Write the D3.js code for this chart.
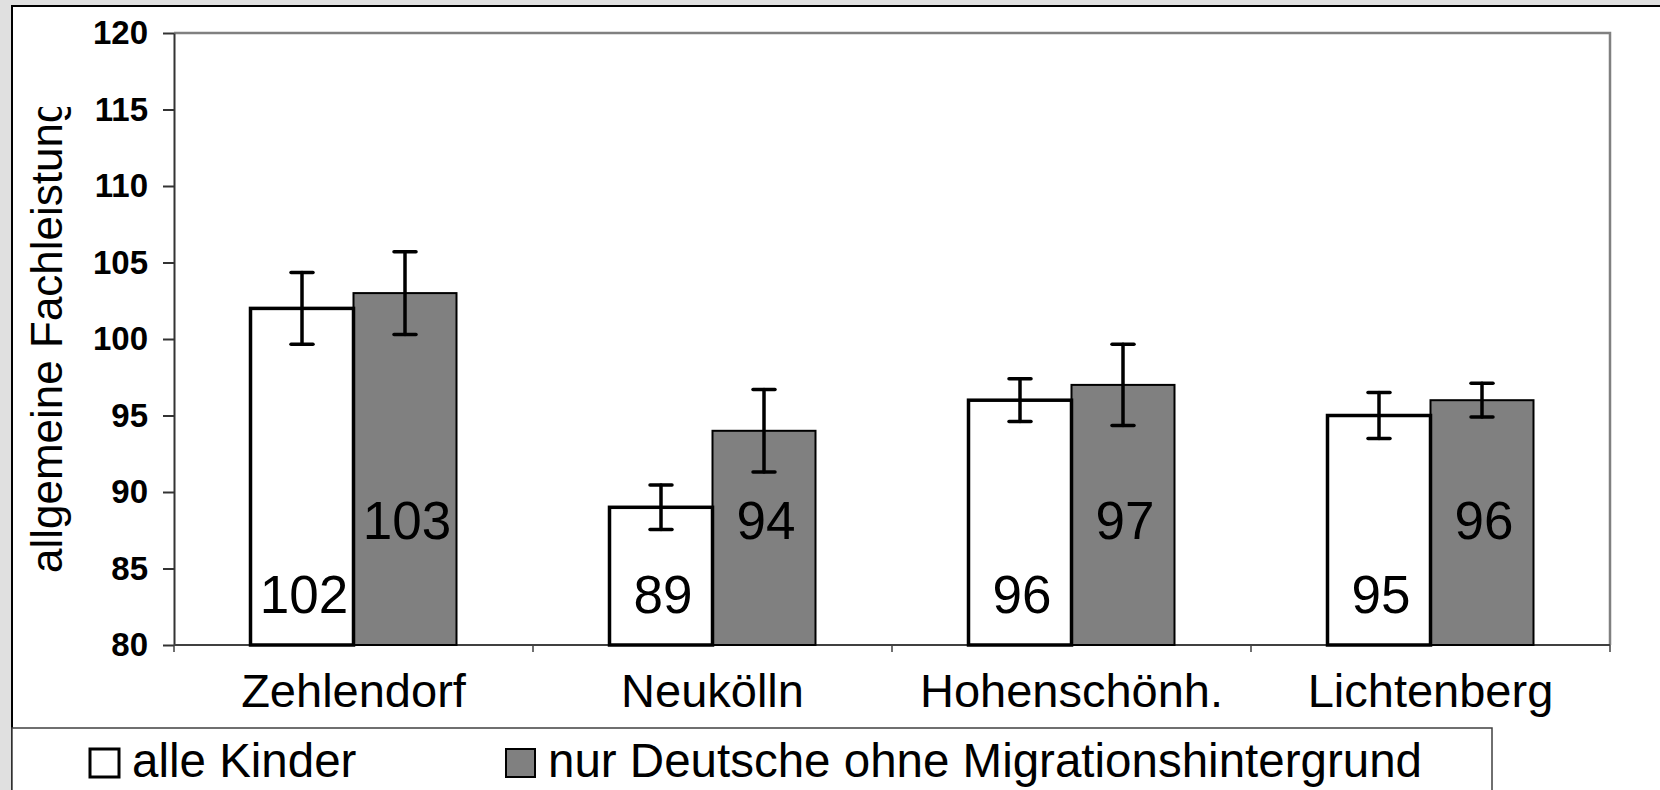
<!DOCTYPE html>
<html lang="de">
<head>
  <meta charset="UTF-8">
  <title>allgemeine Fachleistung</title>
  <script src="https://cdn.jsdelivr.net/npm/d3@7/dist/d3.min.js"></script>
  <style>
    body {
      margin: 0;
      background: #e0e0e0;
    }
    svg {
      display: block;
      font-family: "Liberation Sans", Arial, sans-serif;
    }
    .y-axis text {
      font-size: 33px;
      font-weight: bold;
      fill: #000;
    }
    .y-axis line,
    .y-axis path {
      stroke: #333;
      stroke-width: 2px;
    }
    .cat-label {
      font-size: 47px;
    }
    .value-label {
      font-size: 53px;
      text-anchor: middle;
    }
    .legend text {
      font-size: 47.5px;
    }
  </style>
</head>
<body>

<svg width="1660" height="790"></svg>

<script>
  // Daten
  const bezirke = ['Zehlendorf', 'Neukölln', 'Hohenschönh.', 'Lichtenberg'];
  const serien = ['alle Kinder', 'nur Deutsche ohne Migrationshintergrund'];
  const alleKinder = [102, 89, 96, 95];
  const nurDeutsche = [103, 94, 97, 96];
  // halbe Länge der Fehlerbalken
  const fehlerAlle = [2.35, 1.45, 1.4, 1.5];
  const fehlerDeutsche = [2.7, 2.7, 2.65, 1.1];
  const yTicks = [80, 85, 90, 95, 100, 105, 110, 115, 120];

  const svg = d3.select('svg');
  const plot = { left: 174, right: 1610, top: 33, bottom: 645 };

  // äußerer weißer Rahmen
  svg.append('rect')
    .attr('x', 12).attr('y', 6)
    .attr('width', 1660).attr('height', 800)
    .attr('fill', '#fff')
    .attr('stroke', '#000')
    .attr('stroke-width', 2);

  const x0 = d3.scaleBand()
    .domain(bezirke)
    .range([plot.left, plot.right]);

  const barW = 103;
  const x1 = d3.scaleBand()
    .domain(serien)
    .range([x0.bandwidth() / 2 - barW, x0.bandwidth() / 2 + barW]);

  const y = d3.scaleLinear()
    .domain([80, 120])
    .range([plot.bottom, plot.top]);

  // Rahmen oben und rechts (grau)
  svg.append('path')
    .attr('d', `M${plot.left},${plot.top}H${plot.right}V${plot.bottom}`)
    .attr('fill', 'none')
    .attr('stroke', '#808080')
    .attr('stroke-width', 2.5);

  // y-Achse
  const yAxis = d3.axisLeft(y)
    .tickValues(yTicks)
    .tickSize(11)
    .tickPadding(15)
    .tickSizeOuter(0);

  svg.append('g')
    .attr('class', 'y-axis')
    .attr('transform', `translate(${plot.left},0)`)
    .call(yAxis);

  // x-Achse mit Trennstrichen zwischen den Bezirken
  svg.append('line')
    .attr('x1', plot.left).attr('x2', plot.right)
    .attr('y1', plot.bottom).attr('y2', plot.bottom)
    .attr('stroke', '#404040')
    .attr('stroke-width', 2);

  const trenner = bezirke.map(d => x0(d)).concat([plot.right]);
  svg.selectAll('.x-tick')
    .data(trenner)
    .join('line')
    .attr('class', 'x-tick')
    .attr('x1', d => d).attr('x2', d => d)
    .attr('y1', plot.bottom).attr('y2', plot.bottom + 7)
    .attr('stroke', '#404040')
    .attr('stroke-width', 1.5);

  // Tabelle für die Balken
  const rows = [];
  bezirke.forEach((b, i) => {
    rows.push({ bezirk: b, serie: serien[0], wert: alleKinder[i], fehler: fehlerAlle[i] });
    rows.push({ bezirk: b, serie: serien[1], wert: nurDeutsche[i], fehler: fehlerDeutsche[i] });
  });

  const fill = d3.scaleOrdinal().domain(serien).range(['#ffffff', '#808080']);
  const strokeW = d3.scaleOrdinal().domain(serien).range([3.5, 2]);

  const g = svg.append('g');

  // graue Balken zuerst, weiße (dicker Rand) darüber
  const sortiert = rows.slice().sort((a, b) => serien.indexOf(b.serie) - serien.indexOf(a.serie));

  g.selectAll('.bar')
    .data(sortiert)
    .join('rect')
    .attr('class', 'bar')
    .attr('x', d => x0(d.bezirk) + x1(d.serie))
    .attr('y', d => y(d.wert))
    .attr('width', x1.bandwidth())
    .attr('height', d => y(80) - y(d.wert))
    .attr('fill', d => fill(d.serie))
    .attr('stroke', '#000')
    .attr('stroke-width', d => strokeW(d.serie));

  // Fehlerbalken
  const cap = 11;
  const eb = g.selectAll('.err')
    .data(rows)
    .join('g')
    .attr('class', 'err')
    .attr('transform', d => `translate(${x0(d.bezirk) + x1(d.serie) + x1.bandwidth() / 2},0)`)
    .attr('stroke', '#000')
    .attr('stroke-width', 3.5)
    .attr('stroke-linecap', 'round');

  eb.append('line')
    .attr('x1', 0).attr('x2', 0)
    .attr('y1', d => y(d.wert + d.fehler))
    .attr('y2', d => y(d.wert - d.fehler));
  eb.append('line')
    .attr('x1', -cap).attr('x2', cap)
    .attr('y1', d => y(d.wert + d.fehler))
    .attr('y2', d => y(d.wert + d.fehler));
  eb.append('line')
    .attr('x1', -cap).attr('x2', cap)
    .attr('y1', d => y(d.wert - d.fehler))
    .attr('y2', d => y(d.wert - d.fehler));

  // Werte in den Balken
  g.selectAll('.value-label')
    .data(rows)
    .join('text')
    .attr('class', 'value-label')
    .attr('x', d => x0(d.bezirk) + x1(d.serie) + x1.bandwidth() / 2 + 2)
    .attr('y', d => d.serie === serien[0] ? plot.bottom - 32 : plot.bottom - 106)
    .text(d => d.wert);

  // Bezirksnamen
  svg.selectAll('.cat-label')
    .data(bezirke)
    .join('text')
    .attr('class', 'cat-label')
    .attr('x', d => x0(d) + x0.bandwidth() / 2)
    .attr('y', 707)
    .attr('text-anchor', 'middle')
    .text(d => d);

  // y-Titel, oben abgeschnitten wie im Original
  svg.append('clipPath')
    .attr('id', 'titel-clip')
    .append('rect')
    .attr('x', 14).attr('y', 107)
    .attr('width', 70).attr('height', 600);

  svg.append('g')
    .attr('clip-path', 'url(#titel-clip)')
    .append('text')
    .attr('transform', 'translate(62,573) rotate(-90)')
    .attr('font-size', 44)
    .text('allgemeine Fachleistung');

  // Legende
  const legend = svg.append('g').attr('class', 'legend');
  legend.append('rect')
    .attr('x', 12).attr('y', 728)
    .attr('width', 1480).attr('height', 100)
    .attr('fill', '#fff')
    .attr('stroke', '#404040')
    .attr('stroke-width', 1.5);

  const legX = [90, 506];
  const item = legend.selectAll('.item')
    .data(serien)
    .join('g')
    .attr('class', 'item')
    .attr('transform', (d, i) => `translate(${legX[i]},749)`);

  item.append('rect')
    .attr('width', 29).attr('height', 28)
    .attr('fill', d => fill(d))
    .attr('stroke', '#000')
    .attr('stroke-width', d => d === serien[0] ? 3 : 2);

  item.append('text')
    .attr('x', 42)
    .attr('y', 28)
    .text(d => d);
</script>

</body>
</html>
